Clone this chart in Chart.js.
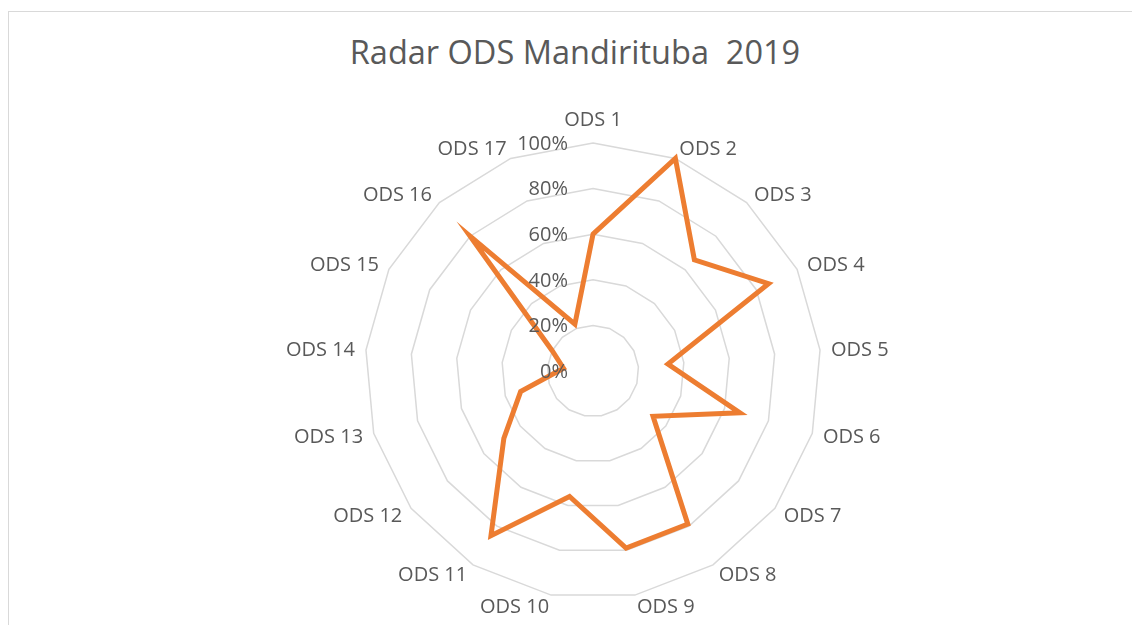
<!DOCTYPE html>
<html lang="pt">
<head>
    <meta charset="UTF-8">
    <title>Radar ODS Mandirituba 2019</title>
    <script src="https://cdn.jsdelivr.net/npm/chart.js"></script>
    <style>
        html, body {
            margin: 0;
            padding: 0;
            background: #fff;
            overflow: hidden;
            width: 1132px;
            height: 625px;
        }

        .frame {
            position: absolute;
            left: 8px;
            top: 11px;
            width: 1200px;
            height: 700px;
            border: 1px solid #d9d9d9;
        }

        .chart-title {
            position: absolute;
            left: 0;
            width: 1150px;
            top: 31px;
            text-align: center;
            font: 32.5px "Open Sans";
            line-height: 42px;
            color: #595959;
            white-space: pre;
        }

        .chart-box {
            position: absolute;
            left: 0;
            top: 0;
            width: 1132px;
            height: 625px;
        }
    </style>
</head>
<body>
    <div class="frame"></div>
    <div class="chart-title">Radar ODS Mandirituba  2019</div>
    <div class="chart-box">
        <canvas id="radarChart"></canvas>
    </div>

    <script>
        // ODS categories
        const categories = ['ODS 1', 'ODS 2', 'ODS 3', 'ODS 4', 'ODS 5', 'ODS 6', 'ODS 7', 'ODS 8', 'ODS 9',
            'ODS 10', 'ODS 11', 'ODS 12', 'ODS 13', 'ODS 14', 'ODS 15', 'ODS 16', 'ODS 17'];

        // values (share, 0..1)
        const values2019 = [0.60, 1.00, 0.66, 0.86, 0.33, 0.67, 0.33, 0.79, 0.79,
            0.56, 0.85, 0.49, 0.33, 0.13, 0.20, 0.80, 0.22];

        const tickValues = [0, 0.2, 0.4, 0.6, 0.8, 1.0];

        const textColor = '#595959';
        const labelFont = '20px "Open Sans"';

        // Excel-style text: percent labels left of the vertical axis,
        // category labels anchored just outside each vertex
        const excelLabels = {
            id: 'excelLabels',
            afterDatasetsDraw(chart) {
                const scale = chart.scales.r;
                const ctx = chart.ctx;
                ctx.save();
                ctx.font = labelFont;
                ctx.fillStyle = textColor;

                ctx.textAlign = 'right';
                ctx.textBaseline = 'middle';
                tickValues.forEach(function(v) {
                    const d = scale.getDistanceFromCenterForValue(v);
                    ctx.fillText(Math.round(v * 100) + '%', scale.xCenter - 25, scale.yCenter - d + 1);
                });

                categories.forEach(function(label, i) {
                    const p = scale.getPointPosition(i, scale.drawingArea + 11);
                    if (i === 0) {
                        ctx.textAlign = 'center';
                        ctx.textBaseline = 'bottom';
                        ctx.fillText(label, p.x, p.y - 2);
                    } else {
                        ctx.textAlign = p.x > scale.xCenter ? 'left' : 'right';
                        ctx.textBaseline = 'middle';
                        ctx.fillText(label, p.x, p.y + 1);
                    }
                });
                ctx.restore();
            }
        };

        new Chart(document.getElementById('radarChart'), {
            type: 'radar',
            data: {
                labels: categories,
                datasets: [{
                    label: '2019',
                    data: values2019,
                    borderColor: '#ED7D31',
                    backgroundColor: '#ED7D31',
                    borderWidth: 5,
                    borderJoinStyle: 'miter',
                    pointRadius: 0,
                    fill: false
                }]
            },
            options: {
                responsive: true,
                maintainAspectRatio: false,
                animation: false,
                layout: {
                    padding: { top: 143, bottom: 25, left: 54, right: 0 }
                },
                plugins: {
                    legend: { display: false },
                    tooltip: { enabled: false }
                },
                scales: {
                    r: {
                        min: 0,
                        max: 1,
                        ticks: {
                            stepSize: 0.2,
                            display: false
                        },
                        angleLines: { display: false },
                        grid: {
                            color: '#d9d9d9',
                            lineWidth: 1.5
                        },
                        pointLabels: { display: false }
                    }
                }
            },
            plugins: [excelLabels]
        });
    </script>
</body>
</html>
